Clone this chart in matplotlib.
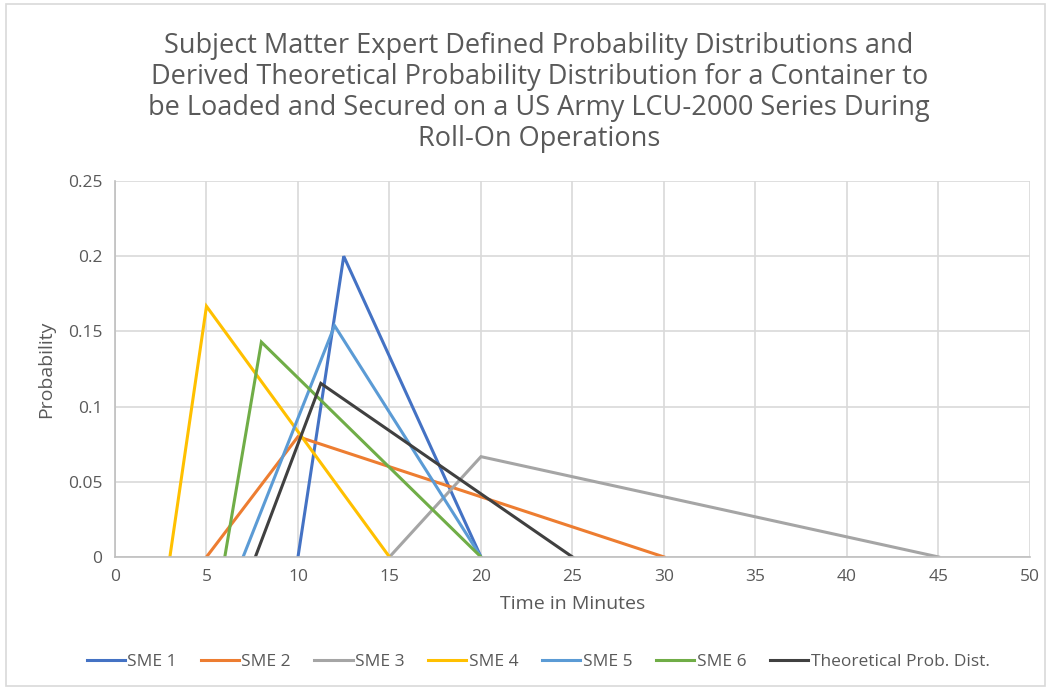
import matplotlib
matplotlib.use("Agg")
import matplotlib.pyplot as plt
from matplotlib.patches import Rectangle

# Triangular distributions: (min, mode, max) in minutes, and peak probability
series_names = ["SME 1", "SME 2", "SME 3", "SME 4", "SME 5", "SME 6", "Theoretical Prob. Dist."]
sme1_x = [10, 12.5, 20]
sme1_y = [0, 0.2, 0]
sme2_x = [5, 10, 30]
sme2_y = [0, 0.08, 0]
sme3_x = [15, 20, 45]
sme3_y = [0, 0.0667, 0]
sme4_x = [3, 5, 15]
sme4_y = [0, 0.1667, 0]
sme5_x = [7, 12, 20]
sme5_y = [0, 0.1538, 0]
sme6_x = [6, 8, 20]
sme6_y = [0, 0.1429, 0]
theo_x = [7.67, 11.25, 25]
theo_y = [0, 0.1154, 0]

x_ticks = list(range(0, 51, 5))
y_ticks = [0, 0.05, 0.1, 0.15, 0.2, 0.25]
y_tick_labels = ["0", "0.05", "0.1", "0.15", "0.2", "0.25"]

colors = ["#4472C4", "#ED7D31", "#A5A5A5", "#FFC000", "#5B9BD5", "#70AD47", "#404040"]
xs = [sme1_x, sme2_x, sme3_x, sme4_x, sme5_x, sme6_x, theo_x]
ys = [sme1_y, sme2_y, sme3_y, sme4_y, sme5_y, sme6_y, theo_y]

plt.rcParams["font.family"] = ["Open Sans", "DejaVu Sans"]
text_color = "#595959"

fig = plt.figure(figsize=(10.51, 6.9), dpi=100)
fig.patches.append(Rectangle((0.006, 0.006), 0.988, 0.988, transform=fig.transFigure,
                             fill=False, edgecolor="#D9D9D9", linewidth=1.2))
ax = fig.add_axes([0.1094, 0.1928, 0.8706, 0.5449])

for name, x, y, c in zip(series_names, xs, ys, colors):
    ax.plot(x, y, color=c, linewidth=2.2, label=name, solid_joinstyle="miter")

ax.set_xlim(0, 50)
ax.set_ylim(0, 0.25)
ax.set_xticks(x_ticks)
ax.set_yticks(y_ticks)
ax.set_yticklabels(y_tick_labels)
ax.grid(True, color="#D9D9D9", linewidth=1.2)
ax.set_axisbelow(True)
for side in ["top", "right"]:
    ax.spines[side].set_visible(False)
for side in ["left", "bottom"]:
    ax.spines[side].set_color("#BFBFBF")
    ax.spines[side].set_linewidth(1.2)
ax.tick_params(axis="both", length=0, labelsize=12.5, colors=text_color, pad=9)

ax.set_xlabel("Time in Minutes", fontsize=14, color=text_color, labelpad=7)
ax.set_ylabel("Probability", fontsize=14, color=text_color, labelpad=9)

fig.text(0.513, 0.866,
         "Subject Matter Expert Defined Probability Distributions and\n"
         "Derived Theoretical Probability Distribution for a Container to\n"
         "be Loaded and Secured on a US Army LCU-2000 Series During\n"
         "Roll-On Operations",
         ha="center", va="center", fontsize=19.5, color=text_color, linespacing=1.13)

fig.legend(loc="center", bbox_to_anchor=(0.512, 0.04), ncol=7, frameon=False,
           fontsize=12.5, labelcolor=text_color, handlelength=2.2, handletextpad=0.15,
           columnspacing=1.35)

fig.savefig("out.png", dpi=100)
